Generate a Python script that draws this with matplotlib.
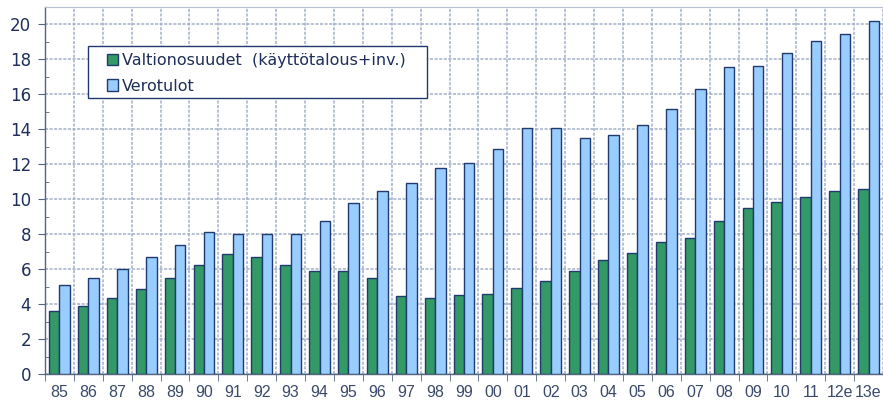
import matplotlib
matplotlib.use("Agg")
import matplotlib.pyplot as plt
from matplotlib.patches import Rectangle
import numpy as np

categories = ["85", "86", "87", "88", "89", "90", "91", "92", "93", "94", "95", "96", "97", "98",
              "99", "00", "01", "02", "03", "04", "05", "06", "07", "08", "09", "10", "11", "12e", "13e"]
valtionosuudet = [3.6, 3.9, 4.35, 4.85, 5.5, 6.25, 6.85, 6.7, 6.25, 5.9, 5.9, 5.5, 4.45, 4.35,
                  4.5, 4.55, 4.9, 5.35, 5.9, 6.5, 6.9, 7.55, 7.8, 8.75, 9.5, 9.85, 10.1, 10.45, 10.6]
verotulot = [5.1, 5.5, 6.0, 6.7, 7.4, 8.1, 8.0, 8.0, 8.0, 8.75, 9.8, 10.5, 10.95, 11.8,
             12.1, 12.9, 14.1, 14.05, 13.5, 13.65, 14.25, 15.15, 16.3, 17.55, 17.6, 18.35, 19.05, 19.45, 20.2]
yticks = [0, 2, 4, 6, 8, 10, 12, 14, 16, 18, 20]

green = "#339966"
blue = "#99ccff"
edge = "#1f3a6e"
gridc = "#a2b0c8"
textc = "#1f2f5a"

fig = plt.figure(figsize=(8.83, 4.01), dpi=100)
ax = fig.add_axes([45/883, 27/401, 838/883, 367/401])

x = np.arange(len(categories))
w = 0.36
ax.bar(x - w/2, valtionosuudet, w, color=green, edgecolor=edge, linewidth=1.0,
       label="Valtionosuudet  (käyttötalous+inv.)", zorder=3)
ax.bar(x + w/2, verotulot, w, color=blue, edgecolor=edge, linewidth=1.0,
       label="Verotulot", zorder=3)

ax.set_xlim(-0.5, len(categories) - 0.5)
ax.set_ylim(0, 21)

ax.set_xticks(x)
ax.set_xticklabels(categories, family="Liberation Sans", fontsize=11.5, color="#3b4a6b")
ax.set_xticks(np.arange(-0.5, len(categories), 1), minor=True)
ax.tick_params(axis="x", which="major", length=0, pad=8)
ax.tick_params(axis="x", which="minor", length=5, color="#55657f", direction="out")

ax.set_yticks(yticks)
ax.set_yticklabels([str(v) for v in yticks], family="DejaVu Sans", fontsize=12, color=textc)
ax.set_yticks(np.arange(1, 21, 2), minor=True)
ax.tick_params(axis="y", which="major", length=5, color="#55657f", direction="out", pad=5)
ax.tick_params(axis="y", which="minor", length=3, color="#55657f", direction="in")

ax.grid(axis="x", which="minor", color=gridc, linewidth=1.1, linestyle=(0, (2, 1)), zorder=0)
ax.grid(axis="y", which="major", color=gridc, linewidth=1.1, linestyle=(0, (2, 1)), zorder=0)
ax.grid(axis="x", which="major", visible=False)

for s in ["left", "bottom"]:
    ax.spines[s].set_color("#55657f")
    ax.spines[s].set_linewidth(1.0)
ax.spines["top"].set_color("#b5c0d4")
ax.spines["right"].set_visible(False)

# legend frame drawn separately to match the wide horizontal padding
ax.add_patch(Rectangle((0.0513, 0.752), 0.4045, 0.1417, transform=ax.transAxes,
                       facecolor="white", edgecolor=edge, linewidth=1.0, zorder=4))
leg = ax.legend(loc="upper left", bbox_to_anchor=(0.074, 0.874), frameon=False,
                prop={"family": "DejaVu Sans", "size": 11.5},
                handlelength=0.7, handleheight=0.7, handletextpad=0.25,
                borderpad=0, labelspacing=0.65, borderaxespad=0)
for t in leg.get_texts():
    t.set_color(textc)
leg.set_zorder(5)

fig.savefig("out.png", dpi=100)
